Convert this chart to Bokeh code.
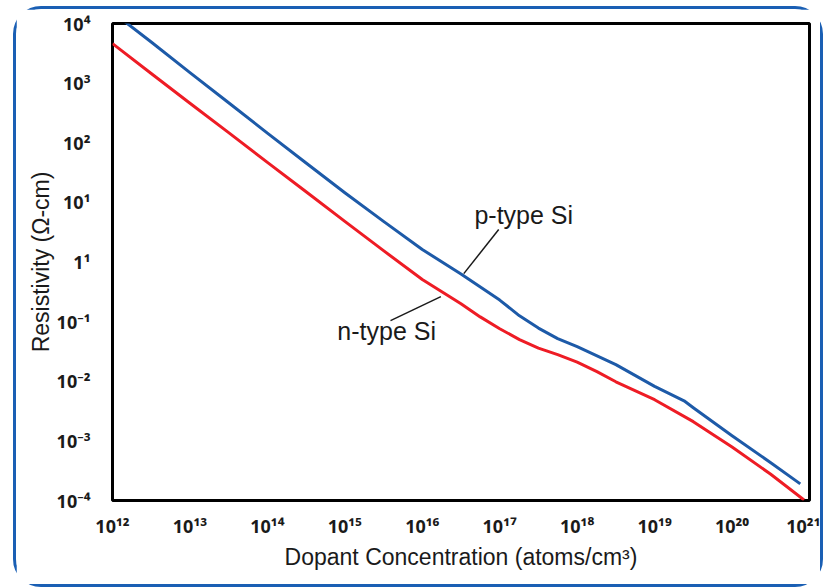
from bokeh.plotting import figure
from bokeh.layouts import column
from bokeh.models import FixedTicker, Label, Range1d, ColumnDataSource
from bokeh.embed import file_html
from bokeh.resources import INLINE

# ---- data ----
n_conc = [1e12, 3.16e12, 1e13, 3.16e13, 1e14, 3.16e14, 1e15, 3.16e15, 1e16, 3.16e16,
          5.6e16, 1e17, 1.8e17, 3.16e17, 5.6e17, 1e18, 1.8e18, 3.16e18, 1e19, 3.16e19,
          1e20, 3.16e20, 8.5e20]
n_rho = [4.6e3, 1.45e3, 4.6e2, 148, 46.8, 15.1, 4.8, 1.55, 0.51, 0.20,
         0.12, 0.076, 0.050, 0.036, 0.028, 0.021, 0.0145, 0.0098, 0.0049, 0.0021,
         7.9e-4, 2.75e-4, 1.02e-4]

p_conc = [1e12, 3.16e12, 1e13, 3.16e13, 1e14, 3.16e14, 1e15, 3.16e15, 1e16, 3.16e16,
          1e17, 1.8e17, 3.16e17, 5.6e17, 1e18, 3.16e18, 1e19, 2.4e19, 3.16e19,
          1e20, 3.16e20, 7.6e20]
p_rho = [1.55e4, 4.9e3, 1.5e3, 468, 145, 45.7, 14.5, 4.8, 1.62, 0.63,
         0.23, 0.125, 0.078, 0.052, 0.038, 0.019, 0.0082, 0.0047, 0.0036,
         0.00122, 4.3e-4, 1.9e-4]

x_ticks = [1e12, 1e13, 1e14, 1e15, 1e16, 1e17, 1e18, 1e19, 1e20, 1e21]
x_tick_labels = ["10¹²", "10¹³", "10¹⁴", "10¹⁵", "10¹⁶", "10¹⁷", "10¹⁸", "10¹⁹", "10²⁰", "10²¹"]
y_ticks = [1e-4, 1e-3, 1e-2, 1e-1, 1.0, 1e1, 1e2, 1e3, 1e4]
y_tick_labels = ["10⁻⁴", "10⁻³", "10⁻²", "10⁻¹", "1¹", "10¹", "10²", "10³", "10⁴"]

# ---- figure ----
FONT = "Liberation Sans"
TICK_FONT = "Noto Sans"
TXT = "#1a1a1a"
p = figure(width=804, height=575, x_axis_type="log", y_axis_type="log",
           x_range=Range1d(1e12, 1e21), y_range=Range1d(1e-4, 1e4),
           output_backend="svg", toolbar_location=None,
           min_border_left=96, min_border_right=11, min_border_top=14, min_border_bottom=84)

p.outline_line_color = "black"
p.outline_line_width = 3
p.grid.visible = False
p.background_fill_color = "white"
p.border_fill_color = "white"

for ax in (p.xaxis[0], p.yaxis[0]):
    ax.axis_line_color = None
    ax.major_tick_line_color = None
    ax.minor_tick_line_color = None
    ax.major_label_text_font = TICK_FONT
    ax.major_label_text_font_style = "bold"
    ax.major_label_text_font_size = "18px"
    ax.major_label_text_color = TXT
    ax.axis_label_text_font = FONT
    ax.axis_label_text_font_style = "normal"
    ax.axis_label_text_font_size = "23px"
    ax.axis_label_text_color = TXT

p.xaxis.ticker = FixedTicker(ticks=x_ticks)
p.yaxis.ticker = FixedTicker(ticks=y_ticks)
p.xaxis.major_label_overrides = {t: l for t, l in zip(x_ticks, x_tick_labels)}
p.yaxis.major_label_overrides = {t: l for t, l in zip(y_ticks, y_tick_labels)}
p.xaxis.major_label_standoff = 7
p.yaxis.major_label_standoff = 16
p.xaxis.axis_label = "Dopant Concentration (atoms/cm³)"
p.yaxis.axis_label = "Resistivity (Ω-cm)"
p.xaxis.axis_label_standoff = 3
p.yaxis.axis_label_standoff = 0

# curves
src_n = ColumnDataSource(dict(x=n_conc, y=n_rho))
src_p = ColumnDataSource(dict(x=p_conc, y=p_rho))
p.line("x", "y", source=src_n, line_color="#EE1C25", line_width=3, line_join="round")
p.line("x", "y", source=src_p, line_color="#1D5AA8", line_width=3, line_join="round")

# leader lines and labels
p.segment(x0=[10**16.536], y0=[10**-0.195], x1=[10**16.987], y1=[10**0.544],
          line_color=TXT, line_width=1.5)
p.segment(x0=[10**15.59], y0=[10**-0.983], x1=[10**16.24], y1=[10**-0.58],
          line_color=TXT, line_width=1.5)
p.add_layout(Label(x=10**17.31, y=10**0.795, text="p-type Si", text_align="center",
                   text_baseline="middle", text_font=FONT, text_font_size="25px",
                   text_color=TXT))
p.add_layout(Label(x=10**15.54, y=10**-1.15, text="n-type Si", text_align="center",
                   text_baseline="middle", text_font=FONT, text_font_size="25px",
                   text_color=TXT))

# rounded blue frame around the whole chart (CSS border of the wrapping layout)
layout = column(p, margin=(6, 0, 0, 13),
                styles={"border": "3px solid #1A5FB4", "border-radius": "28px",
                        "background": "white"})

open("out.html", "w").write(file_html(layout, INLINE))
